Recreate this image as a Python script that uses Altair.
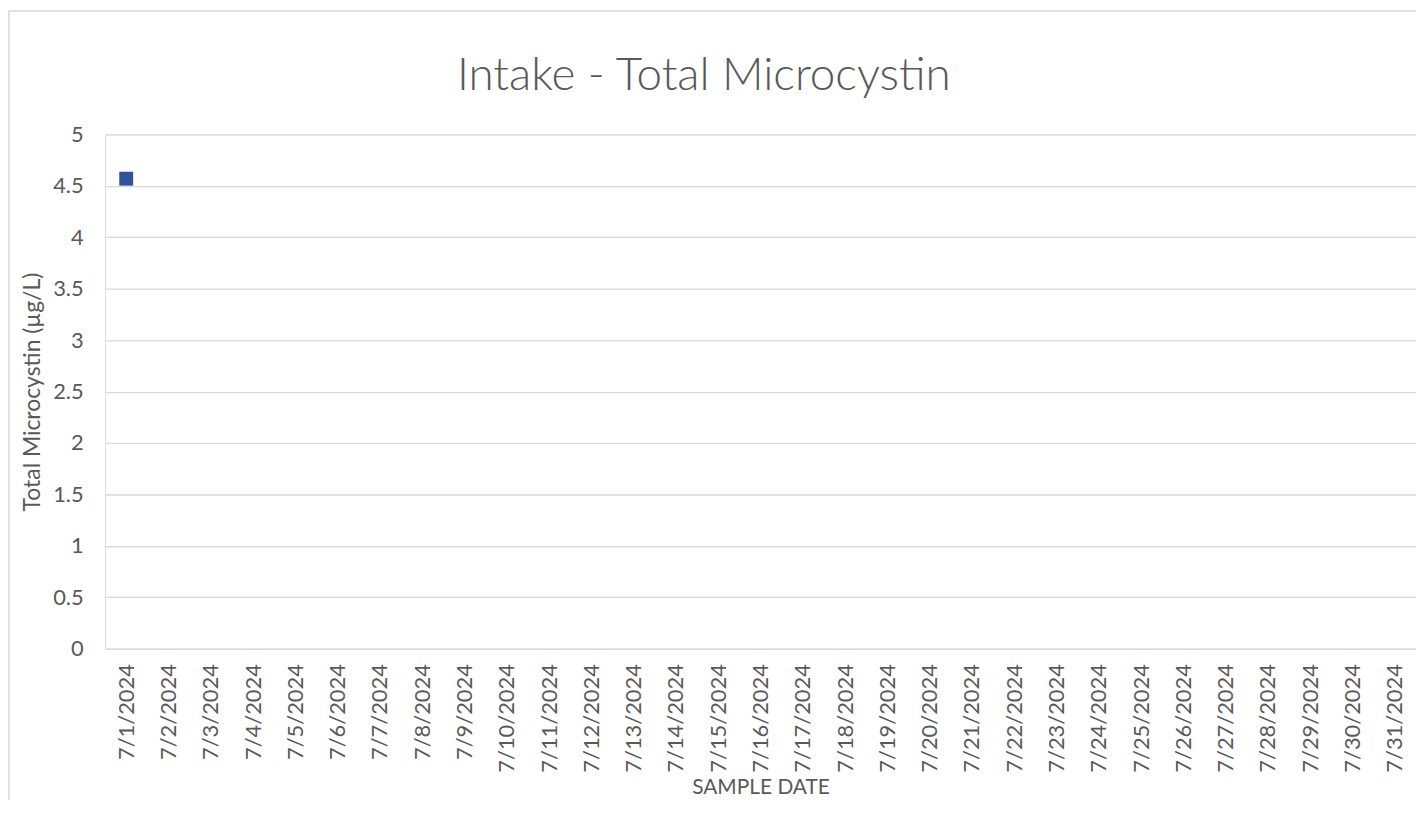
import altair as alt
import pandas as pd

dates = [f"7/{d}/2024" for d in range(1, 32)]
values = [4.57] + [None] * 30
title_text = ["Intake - Total Microcystin"]

df = pd.DataFrame({"date": dates, "value": values})
pts = df.dropna()

GRID = "#D9D9D9"
TXT = "#595959"
FONT = "Lato"

W = 1318
H = 517
PL = 97.6
PT = 125

base = alt.Chart(pts).mark_square(size=196, color="#2F5597", opacity=1).encode(
    x=alt.X("date:O", scale=alt.Scale(type="point", domain=dates, padding=0.5),
            sort=dates,
            axis=alt.Axis(title="SAMPLE DATE", labelAngle=270, labelFontSize=22,
                          labelColor=TXT, labelFont=FONT, labelPadding=15,
                          ticks=False, domain=False, grid=False,
                          titleFontSize=21, titleColor=TXT, titleFont=FONT,
                          titleFontWeight="normal", titleBaseline="alphabetic",
                          titleY=146, labelOverlap=False)),
    y=alt.Y("value:Q", scale=alt.Scale(domain=[0, 5], nice=False),
            axis=alt.Axis(title="Total Microcystin (µg/L)",
                          values=[0, 0.5, 1, 1.5, 2, 2.5, 3, 3.5, 4, 4.5, 5],
                          format="~g", labelFontSize=22, labelColor=TXT, labelFont=FONT,
                          labelPadding=22, ticks=False, domain=False, grid=True,
                          gridColor=GRID, gridWidth=1.3,
                          titleFontSize=23, titleColor=TXT, titleFont=FONT,
                          titleFontWeight="normal", titleBaseline="alphabetic",
                          titleAngle=270, titleX=-66, titleY=H / 2)),
)

border = alt.Chart(pd.DataFrame({"a": [0]})).mark_rect(
    fill=None, stroke=GRID, strokeWidth=1.5
).encode(
    x=alt.value(-PL + 1), x2=alt.value(W + 200), y=alt.value(-PT + 1), y2=alt.value(H + 300)
)

title = alt.Chart(pd.DataFrame({"t": title_text})).mark_text(
    fontSize=46, font=FONT, fontWeight=300, color=TXT, align="center", baseline="alphabetic"
).encode(text="t:N", x=alt.value(602), y=alt.value(-45))

chart = alt.layer(border, base, title).properties(
    width=W, height=H,
    autosize=alt.AutoSizeParams(type="none"),
    padding={"left": PL, "top": PT, "right": 0, "bottom": 150},
).configure_view(stroke=None).configure(background="white")

chart.save("out.html", embed_options={"renderer": "svg", "actions": False})
